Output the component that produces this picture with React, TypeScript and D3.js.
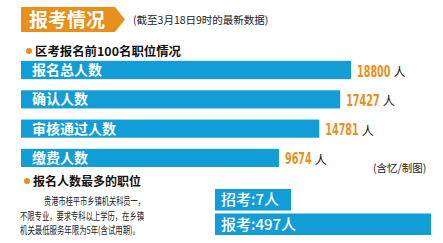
import React from "react";
import * as d3 from "d3";

const categories = ["报名总人数", "确认人数", "审核通过人数", "缴费人数"];
const values = [18800, 17427, 14781, 9674];
const unit = "人";
const title = "报考情况";
const subtitle = "(截至3月18日9时的最新数据)";
const section1 = "区考报名前100名职位情况";
const section2 = "报名人数最多的职位";
const credit = "(含忆/制图)";
const descLines = ["贵港市桂平市乡镇机关科员一，", "不限专业，要求专科以上学历，在乡镇", "机关最低服务年限为5年(含试用期)。"];
const jobLabels = ["招考:7人", "报考:497人"];
const jobValues = [7, 497];

const W = 443;
const H = 243;
const BLUE = "#129dd6";
const ORANGE = "#e8901c";
const CJK = "'Noto Sans CJK SC', sans-serif";

export default function App() {
  const x = d3.scaleLinear().domain([-23000, 18800]).range([0, 330]);
  const y = d3.scaleBand().domain(categories).range([61, 167]).paddingInner(0.38).paddingOuter(0);
  const x0 = 21;
  const jx = d3.scaleLinear().domain([0, 497]).range([74, 216]);
  const jy = d3.scaleBand().domain(jobLabels).range([189, 235]).paddingInner(0.12);
  const descX = [44, 20, 20];
  const descW = [101, 124, 120];

  return (
    <svg width={W} height={H} style={{ position: "absolute", left: 0, top: 0, background: "#fff" }}>
      {/* header */}
      <path d="M21,7 H115 L125,19.5 L115,32 H21 Z" fill={ORANGE} />
      <text x={29} y={27} fontFamily={CJK} fontSize={19} fontWeight={700} fill="#fff">{title}</text>
      <text x={133} y={24} fontFamily={CJK} fontSize={10.5} fill="#222">{subtitle}</text>

      {/* section 1 */}
      <circle cx={29} cy={51} r={3} fill={ORANGE} />
      <text x={35} y={56} fontFamily={CJK} fontSize={12} fontWeight={700} fill="#111" textLength={146} lengthAdjust="spacingAndGlyphs">{section1}</text>
      <line x1={20} x2={352} y1={60.5} y2={60.5} stroke="#d8f2fb" strokeWidth={1} />

      {categories.map((c, i) => {
        const w = x(values[i]);
        const yy = y(c)!;
        const bh = y.bandwidth();
        const label = String(values[i]);
        const numW = label.length * 6.7;
        const nx = x0 + w + 6;
        return (
          <g key={c}>
            <rect x={x0} y={yy} width={w} height={bh} fill={BLUE} />
            <text x={32} y={yy + bh / 2 + 5} fontFamily={CJK} fontSize={14} fontWeight={700} fill="#fff">{c}</text>
            <g transform={`translate(${nx},${yy + bh / 2 + 6.5}) scale(0.72,1)`}>
              <text x={0} y={0} fontFamily="'DejaVu Sans Condensed', 'DejaVu Sans', sans-serif" fontSize={15.5} fontWeight={700} fill={ORANGE} textLength={numW / 0.72} lengthAdjust="spacingAndGlyphs">{label}</text>
            </g>
            <text x={nx + numW + 3} y={yy + bh / 2 + 7} fontFamily={CJK} fontSize={12} fill="#111">{unit}</text>
          </g>
        );
      })}

      <text x={373} y={172} fontFamily={CJK} fontSize={10.5} fill="#222">{credit}</text>

      {/* section 2 */}
      <circle cx={27} cy={181} r={3} fill={ORANGE} />
      <text x={33} y={186} fontFamily={CJK} fontSize={12} fontWeight={700} fill="#111">{section2}</text>

      {descLines.map((l, i) => (
        <text key={i} x={descX[i]} y={205 + i * 14.5} fontFamily={CJK} fontSize={10.5} fill="#222" textLength={descW[i]} lengthAdjust="spacingAndGlyphs">{l}</text>
      ))}

      {jobLabels.map((l, i) => (
        <g key={l}>
          <rect x={215} y={jy(l)!} width={jx(jobValues[i])} height={jy.bandwidth()} fill={BLUE} />
          <text x={221} y={jy(l)! + jy.bandwidth() / 2 + 5.5} fontFamily={CJK} fontSize={15} fontWeight={500} fill="#fff">{l}</text>
        </g>
      ))}
    </svg>
  );
}
